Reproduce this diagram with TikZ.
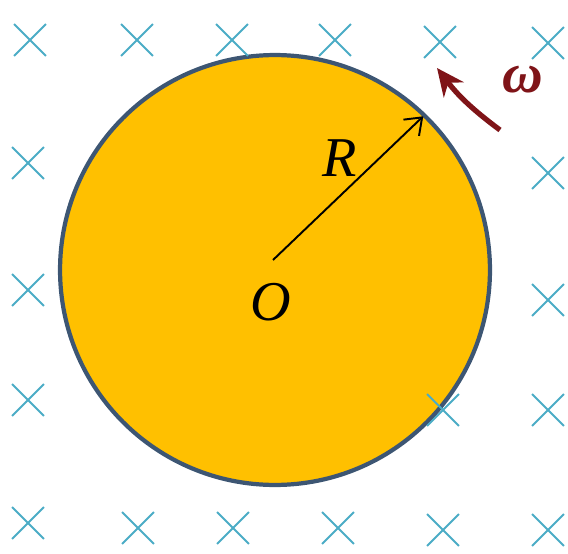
\documentclass[tikz,border=0pt]{standalone}
\usepackage{fontspec}
\setmainfont{Liberation Serif}
\usetikzlibrary{positioning,arrows.meta,shapes.misc}

\definecolor{diskfill}{HTML}{FFC000}
\definecolor{diskline}{HTML}{3D5673}
\definecolor{fieldblue}{HTML}{4BACC6}
\definecolor{spinred}{HTML}{7F1418}

\begin{document}
\begin{tikzpicture}[x=0.02cm, y=-0.02cm,
    font=\fontsize{32}{38}\selectfont\itshape,
    fieldx/.style={cross out, draw=fieldblue, line width=1.1pt, minimum size=0.6cm, inner sep=0pt},
    spin/.style={draw=spinred, line width=3pt, -{Stealth[length=5.5mm,width=5mm]}}]
  \useasboundingbox (0,0) rectangle (568,554);
  \node[circle, fill=diskfill, draw=diskline, line width=2.4pt, minimum size=8.6cm, inner sep=0pt] (disk) at (275,270) {};
  % magnetic field into the page
  \foreach \x/\y [count=\i] in {30/40, 137/40, 232/40, 335/40, 440/42, 548/43,
                                28/163, 548/173, 28/290, 548/300, 28/400, 443/410, 548/410,
                                28/523, 138/528, 233/528, 338/528, 443/530, 548/530}
    \node[fieldx] (b\i) at (\x,\y) {};
  \node (O) at (271,302) {O};
  \node (R) at (340,158) {R};
  \coordinate (o) at (273,260);
  \draw[line width=1.1pt, -{Straight Barb[length=3mm,width=4.5mm]}, shorten >=2pt] (o) -- (disk.46);
  % rotation
  \coordinate (wtail) at (500,130);
  \coordinate (whead) at (437,68);
  \draw[spin] (wtail) to[bend left=8] (whead);
  \node[text=spinred, font=\fontsize{32}{38}\selectfont\bfseries\itshape] (omega) at (523,80) {ω};
\end{tikzpicture}
\end{document}
